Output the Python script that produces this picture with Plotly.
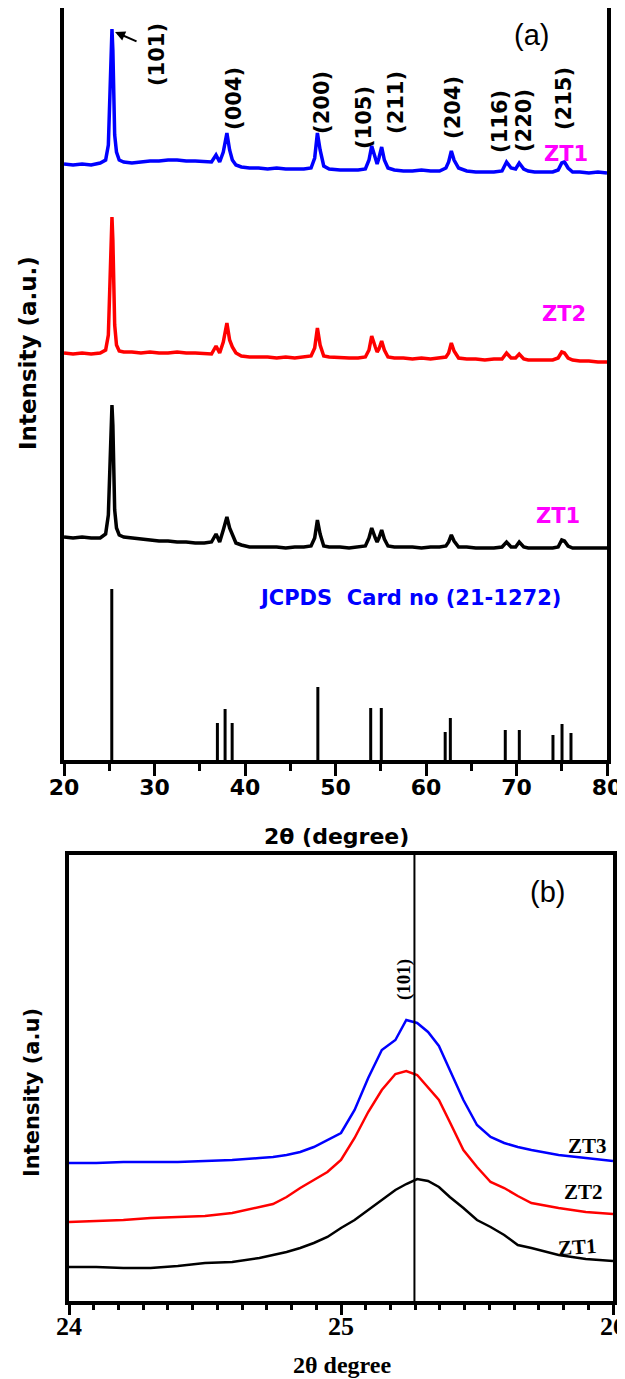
import plotly.graph_objects as go

# ---------------- Panel (a) data: XRD patterns, 2theta (deg) vs intensity (a.u.)
two_theta_a = [20.0, 21.0, 22.0, 23.0, 24.0, 24.6, 24.9, 25.05, 25.15, 25.25, 25.3, 25.4, 25.5, 25.6, 25.8,
               26.1, 26.6, 27.5, 28.5, 29.5, 30.5, 31.5, 32.5, 33.5, 34.5, 35.5, 36.3, 36.8, 37.2, 37.6,
               38.0, 38.3, 38.6, 39.0, 39.6, 40.5, 41.5, 42.5, 43.5, 44.5, 45.5, 46.5, 47.3, 47.7, 48.0,
               48.3, 48.7, 49.3, 50.5, 51.5, 52.5, 53.3, 53.7, 54.0, 54.4, 54.6, 54.8, 55.1, 55.4, 55.8,
               56.5, 57.5, 58.5, 59.5, 60.5, 61.5, 62.2, 62.5, 62.8, 63.1, 63.6, 64.5, 65.5, 66.5, 67.5,
               68.4, 68.9, 69.4, 69.9, 70.3, 70.8, 71.3, 72.0, 73.0, 74.0, 74.6, 75.0, 75.3, 75.7, 76.2,
               77.0, 78.0, 79.0, 80.0]

zt1_top_blue = [596, 595, 596, 595, 597, 600, 615, 655, 700, 728, 731, 710, 660, 625, 608,
                600, 598, 597, 598, 599, 599, 600, 600, 599, 599, 598, 598, 605, 598, 608,
                627, 610, 600, 595, 593, 592, 592, 591, 592, 591, 591, 591, 592, 602, 627,
                610, 594, 591, 590, 590, 590, 591, 600, 614, 602, 596, 602, 613, 600, 592,
                590, 589, 589, 590, 589, 589, 592, 598, 609, 600, 592, 589, 588, 588, 588,
                589, 598, 592, 591, 597, 591, 589, 588, 588, 588, 590, 597, 598, 592, 588,
                588, 587, 588, 587]

zt2_red = [407, 406, 407, 406, 407, 410, 425, 470, 515, 538, 543, 520, 470, 435, 415,
           409, 408, 408, 407, 408, 407, 407, 408, 407, 407, 406, 406, 414, 407, 418,
           437, 420, 413, 407, 404, 403, 403, 403, 402, 403, 402, 403, 404, 412, 432,
           415, 404, 403, 402, 402, 402, 403, 410, 424, 413, 408, 411, 419, 410, 403,
           402, 402, 401, 402, 401, 402, 403, 407, 417, 409, 402, 401, 401, 400, 401,
           401, 407, 402, 402, 406, 401, 400, 400, 400, 400, 402, 408, 407, 402, 400,
           399, 399, 398, 398]

zt1_black = [223, 222, 223, 222, 222, 226, 245, 290, 330, 350, 355, 335, 285, 250, 232,
             225, 223, 222, 221, 220, 219, 219, 218, 218, 217, 217, 218, 226, 218, 230,
             243, 232, 226, 217, 215, 213, 213, 213, 213, 212, 213, 213, 214, 222, 240,
             226, 214, 213, 213, 212, 213, 214, 222, 232, 222, 218, 222, 230, 221, 214,
             213, 213, 213, 212, 213, 213, 214, 218, 225, 219, 213, 213, 212, 212, 212,
             213, 218, 213, 213, 218, 213, 212, 212, 212, 212, 213, 220, 219, 214, 212,
             212, 212, 212, 212]

# JCPDS 21-1272 reference lines
jcpds_pos = [25.28, 36.95, 37.80, 38.58, 48.05, 53.89, 55.06, 62.12, 62.69, 68.76, 70.31, 74.03, 75.03, 76.02]
jcpds_int = [171, 37, 51, 37, 73, 52, 52, 28, 42, 30, 30, 25, 36, 27]

# hkl labels for panel (a)
hkl_labels = ["(101)", "(004)", "(200)", "(105)", "(211)", "(204)", "(116)", "(220)", "(215)"]

x_ticks_a = [20, 30, 40, 50, 60, 70, 80]

# ---------------- Panel (b) data: zoom on (101) reflection
two_theta_b = [24.0, 24.1, 24.2, 24.3, 24.4, 24.5, 24.6, 24.7, 24.75, 24.8, 24.85, 24.9, 24.95, 25.0,
               25.05, 25.1, 25.15, 25.2, 25.24, 25.28, 25.32, 25.36, 25.4, 25.45, 25.5, 25.55, 25.6,
               25.65, 25.7, 25.8, 25.9, 26.0]
zt3_b = [138, 138, 139, 139, 139, 140, 141, 143, 144, 146, 149, 154, 161, 168,
         191, 223, 251, 261, 281, 278, 269, 255, 231, 201, 176, 164, 158,
         154, 151, 146, 143, 140]
zt2_b = [79, 80, 81, 83, 84, 85, 88, 94, 97, 104, 113, 121, 129, 141,
         163, 189, 211, 227, 230, 226, 213, 201, 179, 151, 134, 119, 113,
         105, 98, 93, 89, 87]
zt1_b = [34, 34, 33, 33, 35, 38, 39, 43, 46, 49, 53, 58, 64, 73,
         81, 91, 101, 111, 117, 122, 120, 114, 104, 93, 81, 74, 66,
         56, 53, 46, 42, 40]
peak_101_b = 25.27
x_ticks_b = [24, 25, 26]

assert len(two_theta_a) == len(zt1_top_blue) == len(zt2_red) == len(zt1_black)
assert len(two_theta_b) == len(zt3_b) == len(zt2_b) == len(zt1_b)

fig = go.Figure()

# panel (a) traces
fig.add_trace(go.Scatter(x=two_theta_a, y=zt1_top_blue, mode="lines", line=dict(color="#0000FF", width=3.5),
                         xaxis="x", yaxis="y", showlegend=False))
fig.add_trace(go.Scatter(x=two_theta_a, y=zt2_red, mode="lines", line=dict(color="#FF0000", width=3.5),
                         xaxis="x", yaxis="y", showlegend=False))
fig.add_trace(go.Scatter(x=two_theta_a, y=zt1_black, mode="lines", line=dict(color="#000000", width=3.5),
                         xaxis="x", yaxis="y", showlegend=False))
stick_x, stick_y = [], []
for p, h in zip(jcpds_pos, jcpds_int):
    stick_x += [p, p, None]
    stick_y += [0, h, None]
fig.add_trace(go.Scatter(x=stick_x, y=stick_y, mode="lines", line=dict(color="#000000", width=3),
                         xaxis="x", yaxis="y", showlegend=False))

# panel (b) traces
fig.add_trace(go.Scatter(x=two_theta_b, y=zt3_b, mode="lines", line=dict(color="#0000FF", width=2.5),
                         xaxis="x2", yaxis="y2", showlegend=False))
fig.add_trace(go.Scatter(x=two_theta_b, y=zt2_b, mode="lines", line=dict(color="#FF0000", width=2.5),
                         xaxis="x2", yaxis="y2", showlegend=False))
fig.add_trace(go.Scatter(x=two_theta_b, y=zt1_b, mode="lines", line=dict(color="#000000", width=2.5),
                         xaxis="x2", yaxis="y2", showlegend=False))

W, H = 625, 1379
OX, OY = 8, 8  # page body margin offset


def fx(X):
    return (X - OX) / W


def fy(Y):
    return 1 - (Y - OY) / H


sans = "DejaVu Sans"
serif = "Liberation Serif"

fig.update_layout(
    width=W, height=H, margin=dict(l=0, r=0, t=0, b=0, autoexpand=False),
    paper_bgcolor="white", plot_bgcolor="white",
    xaxis=dict(domain=[fx(64), fx(607)], range=[20, 80], tickvals=x_ticks_a,
               showline=True, linecolor="black", linewidth=4, mirror=True,
               ticks="outside", ticklen=12, tickwidth=3, tickcolor="black",
               minor=dict(ticks="outside", ticklen=7, tickwidth=3, tickcolor="black", dtick=5, tick0=20),
               showgrid=False, zeroline=False, ticklabelstandoff=-7,
               tickfont=dict(family=sans, size=22, color="black", weight="bold")),
    yaxis=dict(domain=[fy(760), fy(8)], range=[0, 752], showticklabels=False, ticks="",
               showline=True, linecolor="black", linewidth=4, mirror=True, showgrid=False, zeroline=False),
    xaxis2=dict(domain=[fx(69), fx(613)], range=[24, 26], tickvals=x_ticks_b, anchor="y2",
                showline=True, linecolor="black", linewidth=3.5, mirror=True,
                ticks="outside", ticklen=10, tickwidth=3, tickcolor="black",
                minor=dict(ticks="outside", ticklen=5, tickwidth=2.5, tickcolor="black", dtick=1 / 11, tick0=24),
                showgrid=False, zeroline=False, ticklabelstandoff=-11,
                tickfont=dict(family=serif, size=26, color="black", weight="bold")),
    yaxis2=dict(domain=[fy(1301), fy(855)], range=[0, 446], anchor="x2", showticklabels=False, ticks="",
                showline=True, linecolor="black", linewidth=3.5, mirror=True, showgrid=False, zeroline=False),
)

fig.add_shape(type="line", xref="x2", yref="y2 domain", x0=peak_101_b, x1=peak_101_b, y0=0, y1=1,
              line=dict(color="black", width=2))

ann = []
# axis titles
ann.append(dict(text="2θ (degree)", xref="paper", yref="paper", x=fx(336), y=fy(836),
                font=dict(family=sans, size=22, color="black", weight="bold")))
ann.append(dict(text="Intensity (a.u.)", xref="paper", yref="paper", x=fx(28), y=fy(353), textangle=-90,
                font=dict(family=sans, size=23, color="black", weight="bold")))
ann.append(dict(text="2θ degree", xref="paper", yref="paper", x=fx(342), y=fy(1365),
                font=dict(family=serif, size=24, color="black", weight="bold")))
ann.append(dict(text="Intensity (a.u)", xref="paper", yref="paper", x=fx(32), y=fy(1093), textangle=-90,
                font=dict(family=sans, size=21, color="black", weight="bold")))

# hkl labels panel (a)
hkl_x = [30.28, 38.78, 48.5, 53.15, 56.68, 62.98, 68.17, 70.83, 75.25]
hkl_y = [705, 662, 658, 642, 658, 653, 639, 639, 661]
for t, xx, yy in zip(hkl_labels, hkl_x, hkl_y):
    ann.append(dict(text=t, xref="x", yref="y", x=xx, y=yy, textangle=-90,
                    font=dict(family=sans, size=21, color="black", weight="bold")))
# arrow to (101)
ann.append(dict(text="", xref="x", yref="y", x=25.64, y=728, ax=28.18, ay=718, axref="x", ayref="y",
                showarrow=True, arrowhead=2, arrowsize=1, arrowwidth=2, arrowcolor="black"))

# sample labels panel (a)
ann.append(dict(text="ZT1", xref="x", yref="y", x=75.47, y=606,
                font=dict(family=sans, size=21, color="#FF00FF", weight="bold")))
ann.append(dict(text="ZT2", xref="x", yref="y", x=75.25, y=446,
                font=dict(family=sans, size=21, color="#FF00FF", weight="bold")))
ann.append(dict(text="ZT1", xref="x", yref="y", x=74.58, y=244,
                font=dict(family=sans, size=21, color="#FF00FF", weight="bold")))
ann.append(dict(text="JCPDS  Card no (21-1272)", xref="x", yref="y", x=58.23, y=162,
                font=dict(family=sans, size=21, color="#0000FF", weight="bold")))
ann.append(dict(text="(a)", xref="x", yref="y", x=71.7, y=725,
                font=dict(family="Liberation Sans", size=29, color="black")))

# panel (b) labels
ann.append(dict(text="(b)", xref="x2", yref="y2", x=25.761, y=409,
                font=dict(family="Liberation Sans", size=29, color="black")))
ann.append(dict(text="(101)", xref="x2", yref="y2", x=25.232, y=321, textangle=-90,
                font=dict(family=serif, size=19, color="black", weight="bold")))
ann.append(dict(text="ZT3", xref="x2", yref="y2", x=25.908, y=155,
                font=dict(family=serif, size=21, color="black", weight="bold")))
ann.append(dict(text="ZT2", xref="x2", yref="y2", x=25.89, y=109,
                font=dict(family=serif, size=21, color="black", weight="bold")))
ann.append(dict(text="ZT1", xref="x2", yref="y2", x=25.871, y=54, textangle=-4,
                font=dict(family=serif, size=21, color="black", weight="bold")))

for a in ann:
    a.setdefault("showarrow", False)
    a.setdefault("xanchor", "center")
    a.setdefault("yanchor", "middle")
    fig.add_annotation(**a)

fig.write_html("out.html")
